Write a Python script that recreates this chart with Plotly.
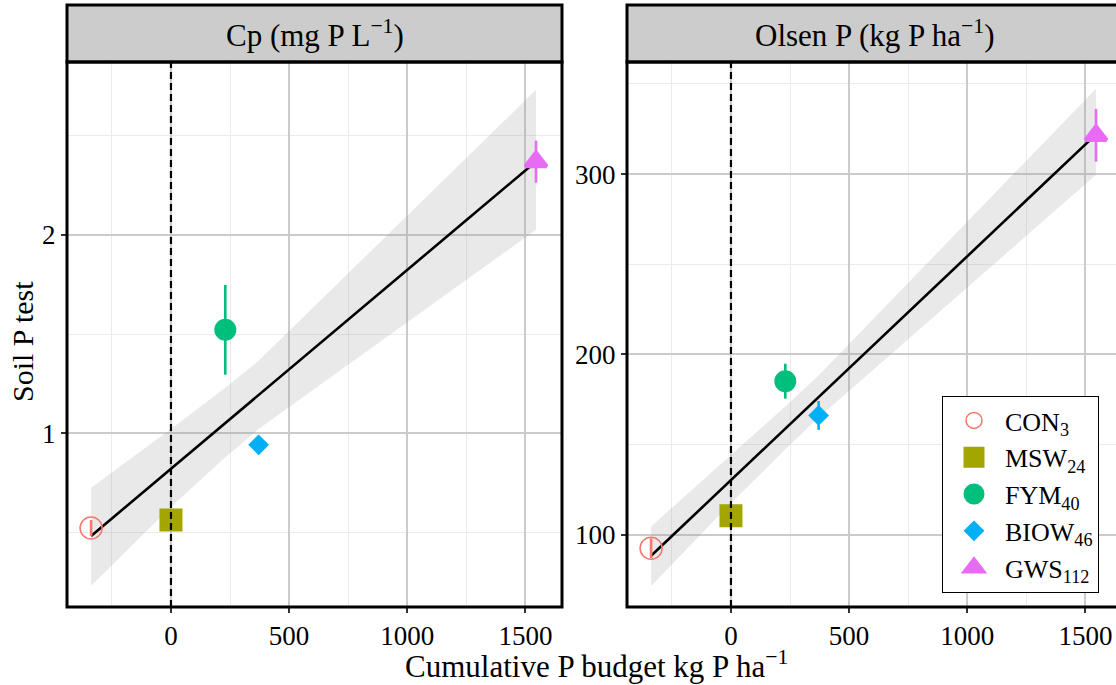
import numpy as np
import plotly.graph_objects as go

# ---------------- data ----------------
treatments = ["CON<sub>3</sub>", "MSW<sub>24</sub>", "FYM<sub>40</sub>", "BIOW<sub>46</sub>", "GWS<sub>112</sub>"]
p_budget = [-338, 0, 230, 371, 1545]          # cumulative P budget, kg P/ha

cp_mean = [0.523, 0.563, 1.521, 0.942, 2.368]  # Cp, mg P/L
cp_err = [0.04, 0.02, 0.226, 0.02, 0.106]
cp_band_upper = [0.725, 1.021, 1.229, 1.365, 2.730]
cp_band_lower = [0.232, 0.629, 0.879, 1.021, 2.025]

olsen_mean = [92.4, 110.4, 185.1, 166.1, 321.5]  # Olsen P, kg P/ha
olsen_err = [5.5, 3.0, 9.7, 8.0, 14.6]
olsen_band_upper = [104.5, 144.0, 171.1, 188.3, 347.4]
olsen_band_lower = [71.5, 117.4, 147.3, 164.9, 299.6]

strip_titles = ["Cp (mg P L<sup>−1</sup>)", "Olsen P (kg P ha<sup>−1</sup>)"]
x_title = "Cumulative P budget kg P ha<sup>−1</sup>"
y_title = "Soil P test"

# ---------------- style ----------------
colors = ["#F8766D", "#A3A500", "#00BF7D", "#00B0F6", "#E76BF3"]
symbols = ["circle-open", "square", "circle", "diamond", "triangle-up"]
sizes = [22, 18, 17, 16, 18.3]
outline = [1.5, 5, 5, 0, 4]       # same-colour outline (enlarges legend symbols too)
FONT = "Liberation Serif"
W, H = 1116, 685

# panel geometry in pixels
L_X0, L_X1 = 67, 562
R_X0, R_X1 = 627, 1122
P_Y0, P_Y1 = 62, 607     # plot area top/bottom
S_Y0 = 5                 # strip top

def px(x):
    return x / W

def py(y):
    return (H - y) / H

fig = go.Figure()

panels = [
    ("x", "y", cp_mean, cp_err, cp_band_upper, cp_band_lower, True),
    ("x2", "y2", olsen_mean, olsen_err, olsen_band_upper, olsen_band_lower, False),
]

xs = np.array(p_budget, dtype=float)
for xa, ya, means, errs, up, lo, show_leg in panels:
    # confidence ribbon
    fig.add_trace(go.Scatter(
        x=list(xs) + list(xs[::-1]), y=list(up) + list(lo[::-1]),
        xaxis=xa, yaxis=ya, mode="lines", fill="toself",
        fillcolor="rgba(153,153,153,0.22)", line=dict(width=0),
        hoverinfo="skip", showlegend=False))
    # linear fit through the treatment means
    slope, intercept = np.polyfit(xs, np.array(means), 1)
    xl = np.array([xs.min(), xs.max()])
    fig.add_trace(go.Scatter(
        x=xl, y=slope * xl + intercept, xaxis=xa, yaxis=ya, mode="lines",
        line=dict(color="black", width=2.6), hoverinfo="skip", showlegend=False))
    # points with error bars
    for i, name in enumerate(treatments):
        fig.add_trace(go.Scatter(
            x=[p_budget[i]], y=[means[i]], xaxis=xa, yaxis=ya, mode="markers",
            name=name, showlegend=show_leg,
            marker=dict(symbol=symbols[i], size=sizes[i], color=colors[i],
                        line=dict(width=outline[i], color=colors[i])),
            error_y=dict(type="data", array=[errs[i]], visible=True,
                         color=colors[i], thickness=2.6, width=0)))

grid_major = "#CBCBCB"
grid_minor = "#EBEBEB"
tickfont = dict(family=FONT, size=27, color="black")

def xaxis_cfg(domain, rng):
    return dict(domain=domain, range=rng, tickvals=[0, 500, 1000, 1500],
                showgrid=True, gridcolor=grid_major, gridwidth=1.5,
                minor=dict(dtick=250, tick0=0, showgrid=True, gridcolor=grid_minor, gridwidth=1),
                zeroline=False, showline=False, ticks="outside", ticklen=5,
                tickwidth=1.5, tickcolor="#333333", tickfont=tickfont)

def yaxis_cfg(anchor, rng, dtick, minor_dtick):
    return dict(domain=[py(P_Y1), py(P_Y0)], range=rng, anchor=anchor, dtick=dtick,
                showgrid=True, gridcolor=grid_major, gridwidth=1.5,
                minor=dict(dtick=minor_dtick, showgrid=True, gridcolor=grid_minor, gridwidth=1),
                zeroline=False, showline=False, ticks="outside", ticklen=5,
                tickwidth=1.5, tickcolor="#333333", tickfont=tickfont)

left_scale = (L_X1 - L_X0) / 2095.0
fig.update_layout(
    width=W, height=H, margin=dict(l=0, r=0, t=0, b=0),
    paper_bgcolor="white", plot_bgcolor="white",
    font=dict(family=FONT, color="black"),
    xaxis=xaxis_cfg([px(L_X0), px(L_X1)], [-440, 1655]),
    xaxis2=dict(xaxis_cfg([px(R_X0), 1.0], [-440, -440 + (W - R_X0) / left_scale]), anchor="y2"),
    yaxis=yaxis_cfg("x", [0.125, 2.870], 1, 0.5),
    yaxis2=yaxis_cfg("x2", [59.8, 362.2], 100, 50),
    legend=dict(x=px(1099), y=py(593), xanchor="right", yanchor="bottom",
                bgcolor="white", bordercolor="black", borderwidth=1,
                font=dict(family=FONT, size=26, color="black"),
                itemwidth=52),
    showlegend=True,
)

shapes = []
annotations = []
for (x0, x1, xref, title) in [(L_X0, L_X1, "x", strip_titles[0]), (R_X0, R_X1, "x2", strip_titles[1])]:
    # strip
    shapes.append(dict(type="rect", xref="paper", yref="paper",
                       x0=px(x0), x1=px(x1), y0=py(P_Y0), y1=py(S_Y0),
                       fillcolor="#CCCCCC", line=dict(color="black", width=3), layer="above"))
    # panel border
    shapes.append(dict(type="rect", xref="paper", yref="paper",
                       x0=px(x0), x1=px(x1), y0=py(P_Y1), y1=py(P_Y0),
                       fillcolor="rgba(0,0,0,0)", line=dict(color="black", width=3), layer="above"))
    # vertical dashed reference line at zero budget
    shapes.append(dict(type="line", xref=xref, yref=("y domain" if xref == "x" else "y2 domain"),
                       x0=0, x1=0, y0=0, y1=1,
                       line=dict(color="black", width=2.2, dash="7px,4px"), layer="above"))
    annotations.append(dict(text=title, xref="paper", yref="paper",
                            x=px((x0 + x1) / 2), y=py((P_Y0 + S_Y0) / 2),
                            showarrow=False, xanchor="center", yanchor="middle",
                            font=dict(family=FONT, size=31, color="black")))

annotations.append(dict(text=x_title, xref="paper", yref="paper", x=px(596), y=py(664),
                        showarrow=False, xanchor="center", yanchor="middle",
                        font=dict(family=FONT, size=31, color="black")))
annotations.append(dict(text=y_title, xref="paper", yref="paper", x=px(22), y=py(342),
                        showarrow=False, xanchor="center", yanchor="middle", textangle=-90,
                        font=dict(family=FONT, size=30, color="black")))

fig.update_layout(shapes=shapes, annotations=annotations)
fig.write_html("out.html", config={"displayModeBar": False},
               post_script="document.body.style.margin='0px';document.body.style.overflow='hidden';")
